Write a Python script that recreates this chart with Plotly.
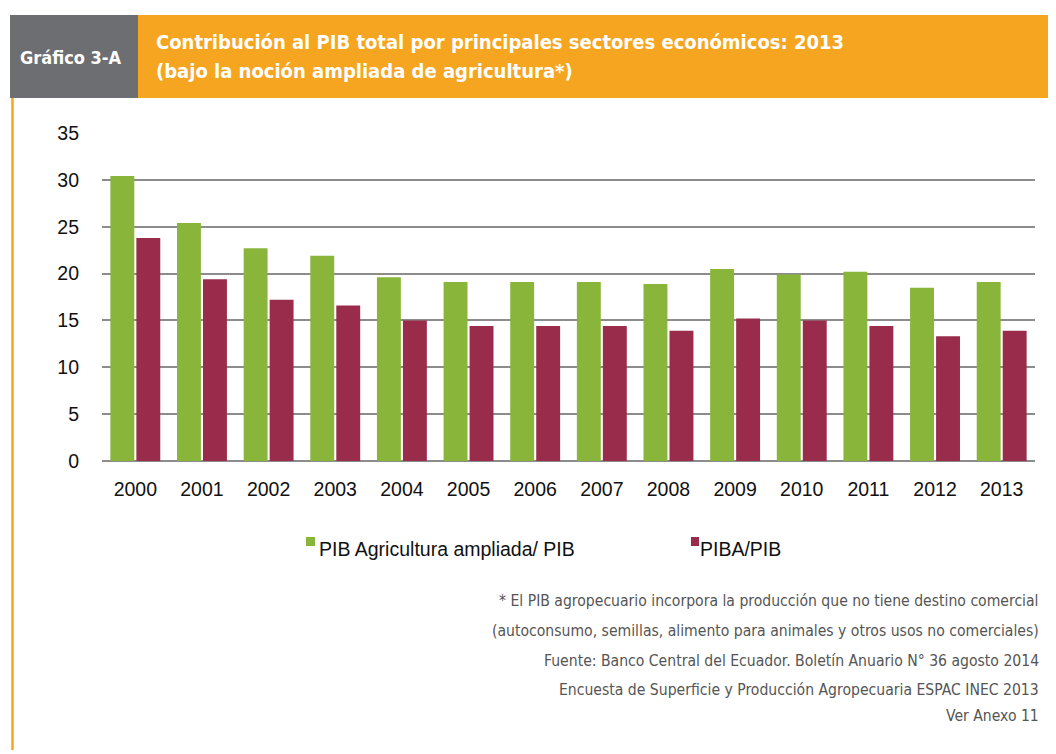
import plotly.graph_objects as go

years = ["2000", "2001", "2002", "2003", "2004", "2005", "2006",
         "2007", "2008", "2009", "2010", "2011", "2012", "2013"]
pib_agri_ampliada = [30.4, 25.4, 22.7, 21.9, 19.6, 19.1, 19.1,
                     19.1, 18.9, 20.5, 19.9, 20.2, 18.5, 19.1]
piba_pib = [23.8, 19.4, 17.2, 16.6, 15.0, 14.4, 14.4,
            14.4, 13.9, 15.2, 15.0, 14.4, 13.3, 13.9]
y_ticks = [0, 5, 10, 15, 20, 25, 30, 35]

series_names = ["PIB Agricultura ampliada/ PIB", "PIBA/PIB"]
header_label = "Gráfico 3-A"
title_lines = ["Contribución al PIB total por principales sectores económicos: 2013",
               "(bajo la noción ampliada de agricultura*)"]
footnotes = [
    "* El PIB agropecuario incorpora la producción que no tiene destino comercial",
    "(autoconsumo, semillas, alimento para animales y otros usos no comerciales)",
    "Fuente: Banco Central del Ecuador. Boletín Anuario N° 36 agosto 2014",
    "Encuesta de Superficie y Producción Agropecuaria ESPAC INEC 2013",
    "Ver Anexo 11",
]

GREEN = "#88B53A"
RED = "#9A2C4B"
ORANGE = "#F6A520"
GREY = "#6D6E71"

OFF = 8  # default page body margin in the written html
W, H = 1056 - OFF, 754 - OFF
# page coordinates of the plot area
PX0, PX1, PY0, PY1 = 102, 1035, 133, 461
L = PX0 - OFF
R = (W + OFF) - PX1
T = PY0 - OFF
B = (H + OFF) - PY1
PW = PX1 - PX0
PH = PY1 - PY0


def px(x):
    return (x - PX0) / PW


def py(y):
    return (PY1 - y) / PH


NARROW = "Liberation Sans Narrow, DejaVu Sans Condensed, Roboto, sans-serif"
ARIAL = "Liberation Sans, Arial, sans-serif"

fig = go.Figure()
fig.add_trace(go.Bar(x=years, y=pib_agri_ampliada, name=series_names[0],
                     marker=dict(color=GREEN, line=dict(width=0))))
fig.add_trace(go.Bar(x=years, y=piba_pib, name=series_names[1],
                     marker=dict(color=RED, line=dict(width=0))))

shapes = []
# header boxes
shapes.append(dict(type="rect", xref="paper", yref="paper",
                   x0=px(10), x1=px(138), y0=py(98), y1=py(15),
                   fillcolor=GREY, line=dict(width=0), layer="below"))
shapes.append(dict(type="rect", xref="paper", yref="paper",
                   x0=px(138), x1=px(1054), y0=py(98), y1=py(15),
                   fillcolor=ORANGE, line=dict(width=0), layer="below"))
# left orange border
shapes.append(dict(type="line", xref="paper", yref="paper",
                   x0=px(12.5), x1=px(12.5), y0=py(98), y1=py(750),
                   line=dict(color=ORANGE, width=2.5)))
# legend squares
shapes.append(dict(type="rect", xref="paper", yref="paper",
                   x0=px(306), x1=px(315), y0=py(546), y1=py(537),
                   fillcolor=GREEN, line=dict(width=0)))
shapes.append(dict(type="rect", xref="paper", yref="paper",
                   x0=px(691), x1=px(699), y0=py(546), y1=py(537),
                   fillcolor=RED, line=dict(width=0)))

annotations = []
annotations.append(dict(text="<b>" + header_label + "</b>", xref="paper", yref="paper",
                        x=px(71), y=py(57), xanchor="center", yanchor="middle",
                        showarrow=False, font=dict(family=NARROW, size=18, color="white")))
for line, yy in zip(title_lines, [42, 71]):
    annotations.append(dict(text="<b>" + line + "</b>", xref="paper", yref="paper",
                            x=px(154), y=py(yy), xanchor="left", yanchor="middle",
                            showarrow=False, font=dict(family=NARROW, size=20, color="white")))
# legend text
annotations.append(dict(text=series_names[0], xref="paper", yref="paper",
                        x=px(317), y=py(549), xanchor="left", yanchor="middle",
                        showarrow=False, font=dict(family=ARIAL, size=19.5, color="#111")))
annotations.append(dict(text=series_names[1], xref="paper", yref="paper",
                        x=px(698), y=py(549), xanchor="left", yanchor="middle",
                        showarrow=False, font=dict(family=ARIAL, size=19.5, color="#111")))
# footnotes
for line, yy in zip(footnotes, [601, 631, 661, 690, 716]):
    annotations.append(dict(text=line, xref="paper", yref="paper",
                            x=px(1041), y=py(yy), xanchor="right", yanchor="middle",
                            showarrow=False, font=dict(family=NARROW, size=15.6, color="#555")))

fig.update_layout(
    width=W, height=H,
    margin=dict(l=L, r=R, t=T, b=B, pad=0),
    paper_bgcolor="white", plot_bgcolor="white",
    barmode="group", bargap=0.22, bargroupgap=0.08,
    showlegend=False,
    shapes=shapes, annotations=annotations,
    xaxis=dict(showgrid=False, showline=False, zeroline=False, ticks="",
               tickfont=dict(family=ARIAL, size=19.5, color="#111"),
               ticklabelstandoff=14, fixedrange=True),
    yaxis=dict(range=[0, 35], tickvals=y_ticks, showgrid=True,
               gridcolor="#8C8C8C", gridwidth=1.5, zeroline=True,
               zerolinecolor="#8C8C8C", zerolinewidth=1.5, showline=False,
               ticks="", tickfont=dict(family=ARIAL, size=19.5, color="#111"),
               ticklabelstandoff=22, fixedrange=True),
)

fig.write_html("out.html")
